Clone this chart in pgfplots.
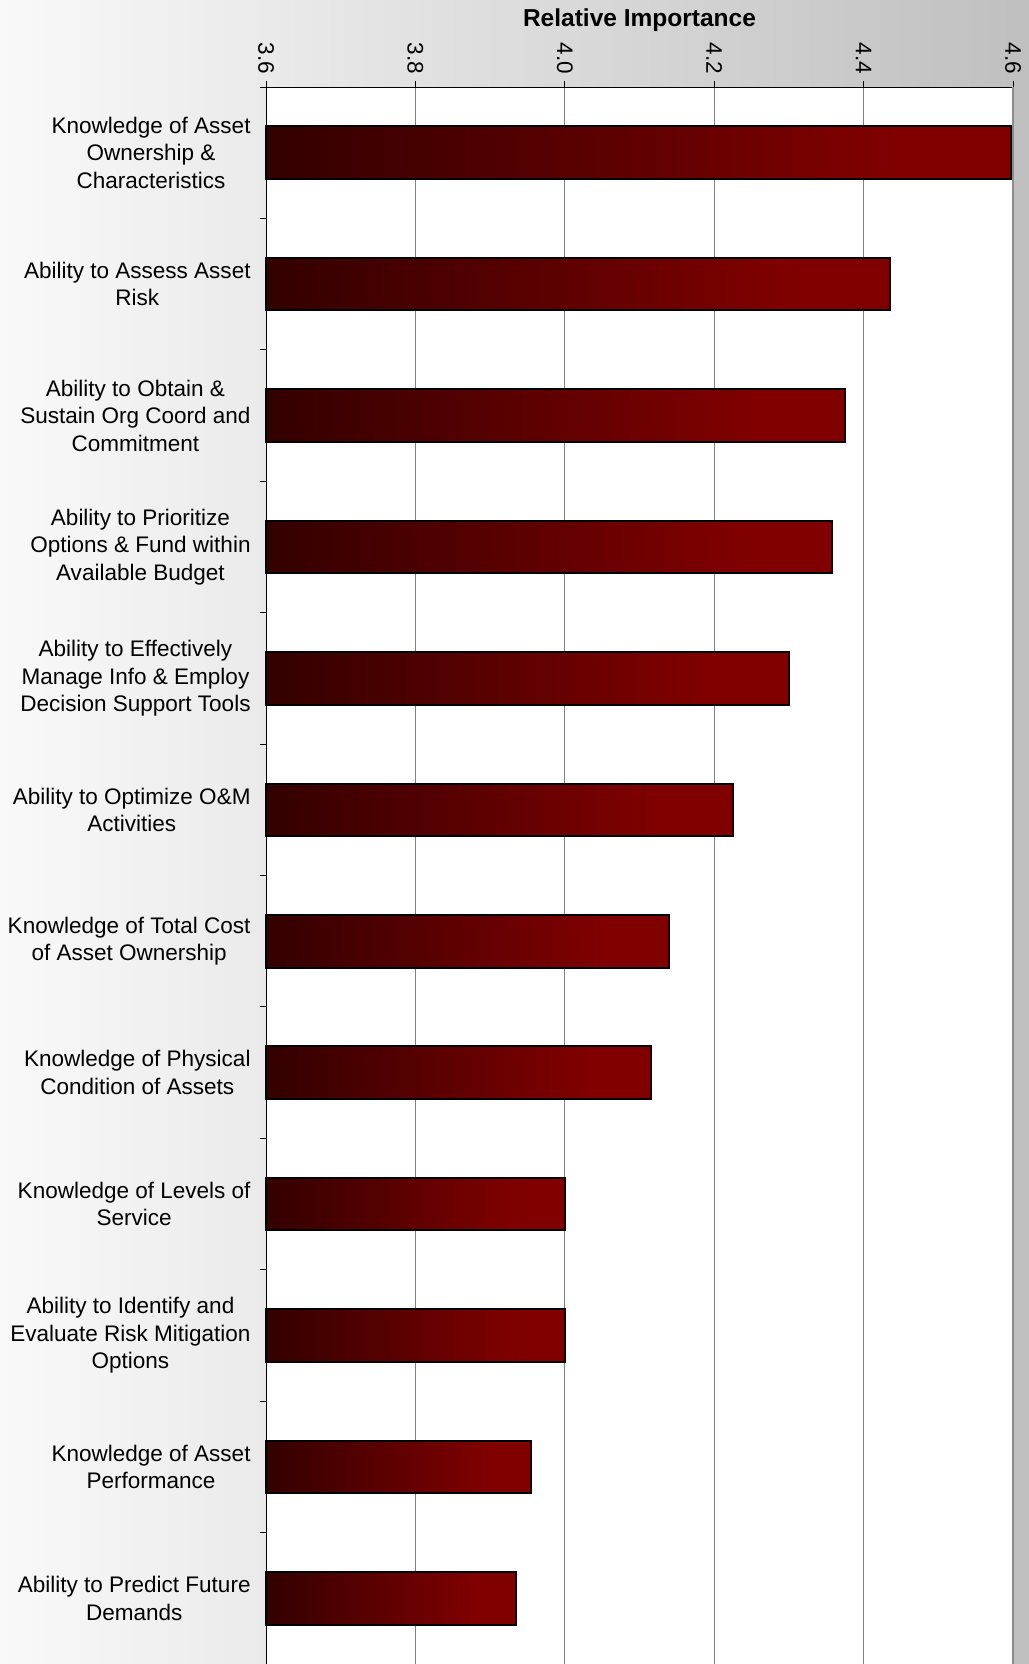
\documentclass[border=0pt]{standalone}
\usepackage{fontspec}
\setmainfont{Liberation Sans}
\usepackage{pgfplots}
\pgfplotsset{compat=1.18}
\definecolor{bardark}{RGB}{51,0,0}
\definecolor{barred}{RGB}{128,0,0}
\definecolor{bgleft}{RGB}{249,249,249}
\definecolor{bgright}{RGB}{192,192,192}
\definecolor{gridgray}{RGB}{128,128,128}
\definecolor{edgegray}{RGB}{140,140,140}
\pgfdeclarehorizontalshading{barshade}{100bp}{color(0bp)=(bardark); color(25bp)=(bardark); color(67bp)=(barred); color(100bp)=(barred)}
\pgfplotsset{bars/.style={xbar, bar width=0.4, draw=black, line width=1bp, shading=barshade}}
\begin{document}
\begin{tikzpicture}
\useasboundingbox (0,0) rectangle (514.5bp,832bp);
\shade[left color=bgleft, right color=bgright] (0,0) rectangle (507bp,832bp);
\fill[bgright] (507bp,0) rectangle (514.5bp,832bp);
\begin{axis}[
  at={(133bp,0bp)}, anchor=south west,
  scale only axis, width=373.5bp, height=788.5bp,
  axis background/.style={fill=white},
  axis line style={draw=none},
  xmin=3.6, xmax=4.6, ymin=-0.5, ymax=11.5, y dir=reverse,
  x coord trafo/.code={\pgfmathparse{#1-3.6}},
  x coord inv trafo/.code={\pgfmathparse{#1+3.6}},
  xtick={3.6,3.8,4.0,4.2,4.4,4.6},
  xtick pos=right,
  xticklabel pos=right,
  ytick pos=left,
  xticklabel style={rotate=-90, anchor=east, font=\fontsize{11.3}{13}\selectfont,
    /pgf/number format/.cd, fixed, fixed zerofill, precision=1, assume math mode=true},
  xmajorgrids,
  major grid style={gridgray, line width=0.5bp},
  tick align=outside,
  major tick length=3bp,
  every tick/.style={black, line width=0.5bp},
  ytick={-0.5,0.5,...,11.5},
  yticklabels={},
  extra y ticks={0,1,...,11},
  extra y tick style={major tick length=0pt, grid=none},
  extra y tick labels={
    {Knowledge of Asset\\Ownership \&\\Characteristics},
    {Ability to Assess Asset\\Risk},
    {Ability to Obtain \&\\Sustain Org Coord and\\Commitment},
    {Ability to Prioritize\\Options \& Fund within\\Available Budget},
    {Ability to Effectively\\Manage Info \& Employ\\Decision Support Tools},
    {Ability to Optimize O\&M\\Activities},
    {Knowledge of Total Cost\\of Asset Ownership},
    {Knowledge of Physical\\Condition of Assets},
    {Knowledge of Levels of\\Service},
    {Ability to Identify and\\Evaluate Risk Mitigation\\Options},
    {Knowledge of Asset\\Performance},
    {Ability to Predict Future\\Demands}},
  yticklabel style={align=center, font=\fontsize{11.3}{13.8}\selectfont, xshift=-4.2bp},
  title={Relative Importance},
  title style={font=\bfseries\fontsize{12.3}{14}\selectfont, at={(0.5,1)}, anchor=center, yshift=27.2bp},
  clip=false,
]
\addplot[bars] coordinates {(4.597,0)};
\addplot[bars] coordinates {(4.435,1)};
\addplot[bars] coordinates {(4.375,2)};
\addplot[bars] coordinates {(4.358,3)};
\addplot[bars] coordinates {(4.30,4)};
\addplot[bars] coordinates {(4.225,5)};
\addplot[bars] coordinates {(4.14,6)};
\addplot[bars] coordinates {(4.115,7)};
\addplot[bars] coordinates {(4.00,8)};
\addplot[bars] coordinates {(4.00,9)};
\addplot[bars] coordinates {(3.955,10)};
\addplot[bars] coordinates {(3.935,11)};
\draw[black, line width=0.5bp] (axis cs:3.6,11.5) -- (axis cs:3.6,-0.5) -- (axis cs:4.6,-0.5);
\draw[edgegray, line width=1bp] (axis cs:4.6,-0.5) -- (axis cs:4.6,11.5);
\end{axis}
\end{tikzpicture}
\end{document}
